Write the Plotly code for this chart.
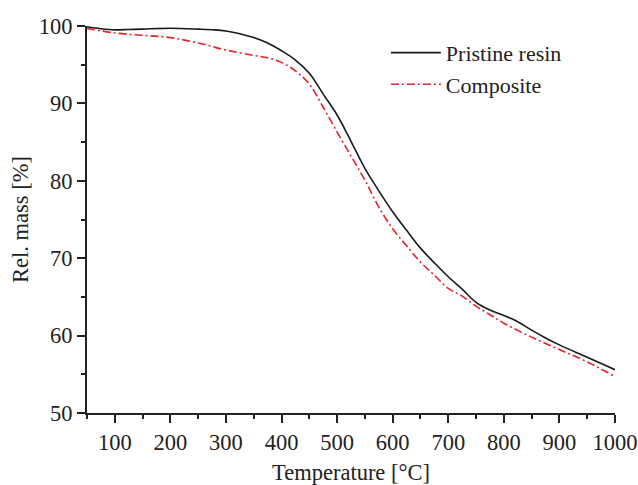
import plotly.graph_objects as go

temp_pristine = [50, 75, 100, 125, 150, 200, 250, 280, 300, 325, 350, 375, 400, 425, 450,
                 475, 500, 525, 550, 575, 600, 625, 650, 675, 700, 725, 750, 775, 800,
                 825, 850, 875, 900, 950, 1000]
mass_pristine = [99.9, 99.65, 99.5, 99.55, 99.6, 99.7, 99.6, 99.5, 99.35, 99.0, 98.5, 97.8,
                 96.8, 95.6, 93.9, 91.2, 88.5, 85.1, 81.6, 78.7, 76.0, 73.6, 71.3, 69.4,
                 67.6, 66.0, 64.3, 63.3, 62.6, 61.8, 60.7, 59.7, 58.8, 57.2, 55.6]

temp_composite = [50, 100, 150, 200, 250, 300, 350, 375, 400, 425, 450, 475, 500, 525, 550,
                  575, 600, 625, 650, 675, 700, 725, 750, 775, 800, 850, 900, 950, 1000]
mass_composite = [99.7, 99.1, 98.8, 98.5, 97.8, 96.9, 96.2, 95.9, 95.3, 94.2, 92.5, 89.5,
                  86.3, 83.2, 80.1, 76.6, 73.8, 71.6, 69.5, 67.8, 66.1, 65.1, 63.8, 62.7,
                  61.6, 59.8, 58.2, 56.6, 54.7]

series_names = ["Pristine resin", "Composite"]
x_ticks = [100, 200, 300, 400, 500, 600, 700, 800, 900, 1000]
y_ticks = [50, 60, 70, 80, 90, 100]

FONT = "Liberation Serif, Times New Roman, serif"
AXC = "#222222"

fig = go.Figure()
fig.add_trace(go.Scatter(x=temp_pristine, y=mass_pristine, mode="lines",
                         name=series_names[0], line=dict(color="#1a1a1a", width=1.6, shape="spline")))
fig.add_trace(go.Scatter(x=temp_composite, y=mass_composite, mode="lines",
                         name=series_names[1],
                         line=dict(color="#e8202a", width=1.6, shape="spline", dash="8px,3px,2px,3px")))

fig.update_layout(
    width=638, height=485,
    margin=dict(l=87, r=23, t=26, b=72),
    paper_bgcolor="white", plot_bgcolor="white",
    font=dict(family=FONT, size=22, color=AXC),
    showlegend=True,
    legend=dict(x=0.566, y=0.985, xanchor="left", yanchor="top",
                bgcolor="rgba(0,0,0,0)", font=dict(family=FONT, size=22, color=AXC),
                itemwidth=50, tracegroupgap=0),
    xaxis=dict(range=[50, 1000], tickvals=x_ticks, showgrid=False, zeroline=False,
               automargin=False,
               showline=True, linecolor=AXC, linewidth=2, ticks="outside", ticklen=8,
               tickwidth=2, tickcolor=AXC, tickfont=dict(size=22.5),
               minor=dict(dtick=50, tick0=0, ticks="outside", ticklen=4, tickwidth=2, tickcolor=AXC, showgrid=False),
               title=dict(text="Temperature [°C]", font=dict(size=22.5), standoff=22)),
    yaxis=dict(range=[50, 100], tickvals=y_ticks, showgrid=False, zeroline=False,
               automargin=False,
               showline=True, linecolor=AXC, linewidth=2, ticks="outside", ticklen=8,
               tickwidth=2, tickcolor=AXC, tickfont=dict(size=22.5),
               minor=dict(dtick=5, tick0=0, ticks="outside", ticklen=4, tickwidth=2, tickcolor=AXC, showgrid=False),
               title=dict(text="Rel. mass [%]", font=dict(size=22.5), standoff=4)),
)

fig.write_html("out.html",
               config={"displayModeBar": False, "staticPlot": True},
               post_script="document.body.style.margin='0';document.body.style.overflow='hidden';")
